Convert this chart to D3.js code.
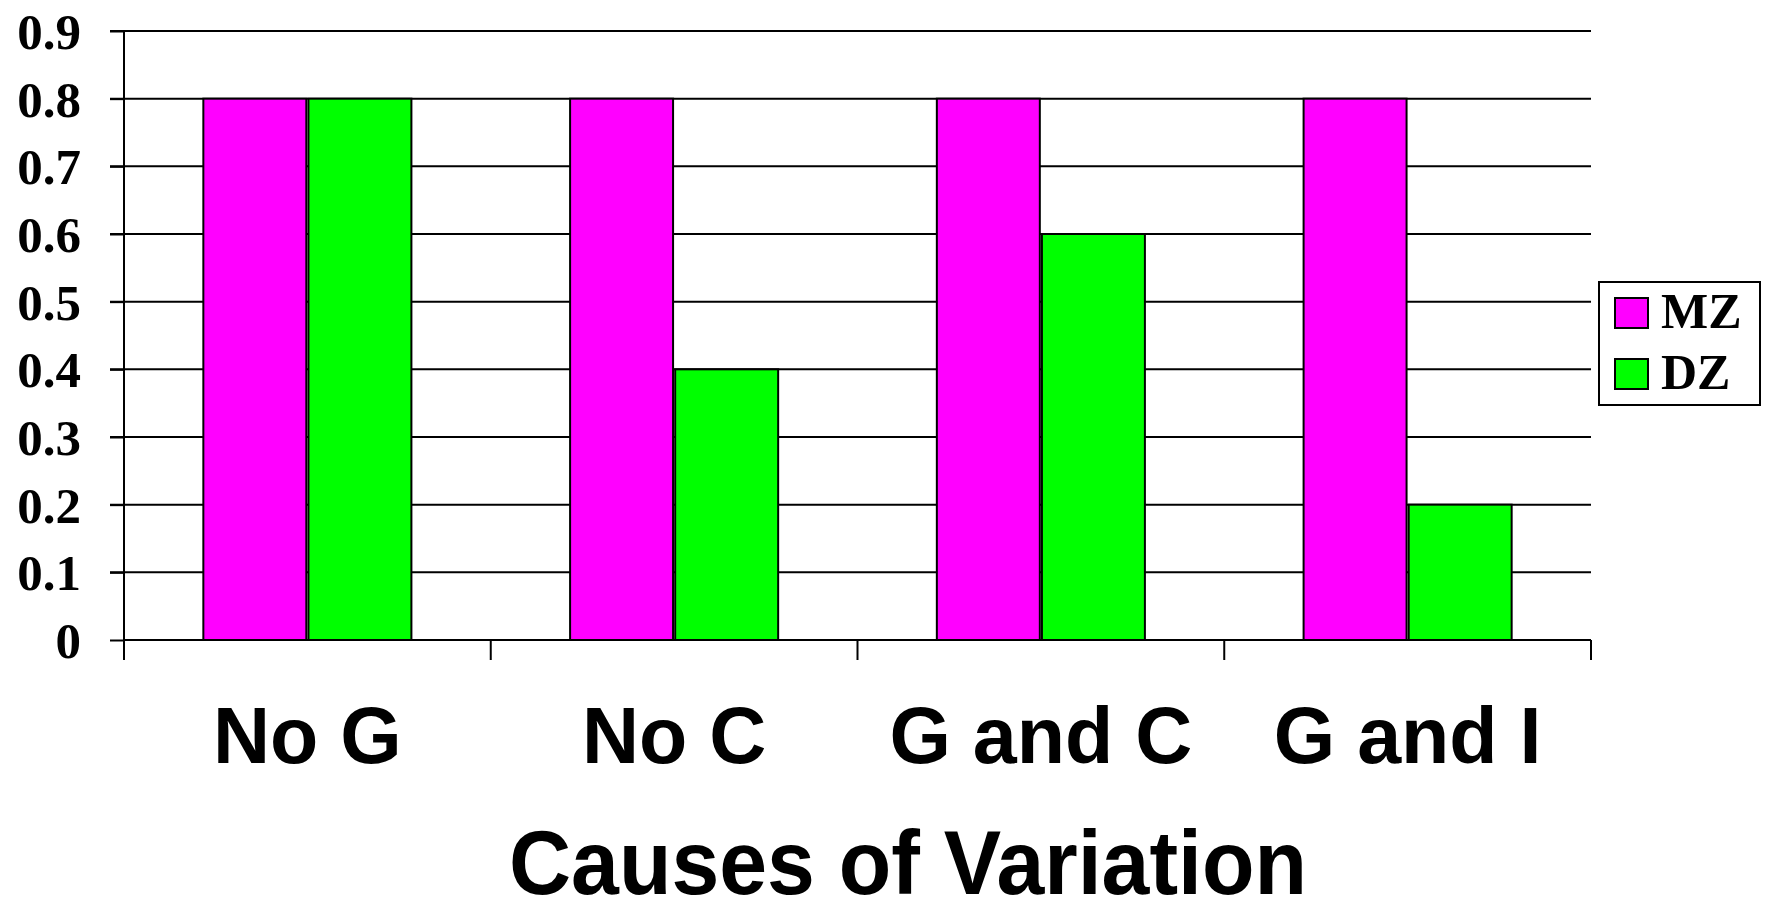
<!DOCTYPE html>
<html>
<head>
<meta charset="utf-8">
<script src="https://cdn.jsdelivr.net/npm/d3@7"></script>
<style>
  html, body { margin: 0; padding: 0; background: #fff; }
  svg { display: block; }
</style>
</head>
<body>
<script>
const categories = ["No G", "No C", "G and C", "G and I"];
const seriesNames = ["MZ", "DZ"];
const mzValues = [0.8, 0.8, 0.8, 0.8];
const dzValues = [0.8, 0.4, 0.6, 0.2];
const yTicks = [0, 0.1, 0.2, 0.3, 0.4, 0.5, 0.6, 0.7, 0.8, 0.9];
const colors = ["#ff00ff", "#00ff00"];
const xTitle = "Causes of Variation";

(function () {
const W = 1767, H = 905;
const pL = 124, pR = 1591, pT = 31, pB = 640;

const svg = d3.select("body").append("svg").attr("width", W).attr("height", H);

const x0 = d3.scaleBand().domain(categories).range([pL, pR]).paddingInner(0).paddingOuter(0);
const y = d3.scaleLinear().domain([0, 0.9]).range([pB, pT]);
const x1 = d3.scaleBand().domain(seriesNames).range([0, x0.bandwidth()]).paddingOuter(0.755).paddingInner(0.02);

const data = categories.map((c, i) => ({ cat: c, vals: [mzValues[i], dzValues[i]] }));

// gridlines
svg.append("g").selectAll("line").data(yTicks.filter(d => d > 0)).join("line")
  .attr("x1", pL - 14).attr("x2", pR)
  .attr("y1", d => y(d)).attr("y2", d => y(d))
  .attr("stroke", "#000").attr("stroke-width", 2);

// bars
const groups = svg.append("g").selectAll("g").data(data).join("g")
  .attr("transform", d => `translate(${x0(d.cat)},0)`);
groups.selectAll("rect").data(d => d.vals.map((v, j) => ({ s: seriesNames[j], v, j }))).join("rect")
  .attr("x", d => x1(d.s))
  .attr("width", x1.bandwidth())
  .attr("y", d => y(d.v))
  .attr("height", d => y(0) - y(d.v))
  .attr("fill", d => colors[d.j])
  .attr("stroke", "#000").attr("stroke-width", 2);

// y axis
const yAxis = d3.axisLeft(y).tickValues(yTicks).tickSize(14).tickFormat(d => d === 0 ? "0" : d3.format(".1f")(d));
const yg = svg.append("g").attr("transform", `translate(${pL},0)`).call(yAxis);
yg.select(".domain").remove();
yg.selectAll(".tick line").attr("stroke", "#000").attr("stroke-width", 2);
yg.selectAll(".tick text")
  .attr("font-family", "'Liberation Serif', 'Times New Roman', serif")
  .attr("font-weight", "bold").attr("font-size", 51).attr("fill", "#000")
  .attr("x", -43).attr("dy", "0.34em");
svg.append("line").attr("x1", pL).attr("x2", pL).attr("y1", pT).attr("y2", pB + 20)
  .attr("stroke", "#000").attr("stroke-width", 2);

// x axis line and ticks
svg.append("line").attr("x1", pL).attr("x2", pR).attr("y1", pB).attr("y2", pB)
  .attr("stroke", "#000").attr("stroke-width", 2);
const xBounds = categories.map(c => x0(c)).concat([pR]);
svg.append("g").selectAll("line").data(xBounds).join("line")
  .attr("x1", d => d).attr("x2", d => d).attr("y1", pB).attr("y2", pB + 20)
  .attr("stroke", "#000").attr("stroke-width", 2);

// category labels
svg.append("g").selectAll("text").data(categories).join("text")
  .attr("x", d => x0(d) + x0.bandwidth() / 2)
  .attr("y", 763)
  .attr("text-anchor", "middle")
  .attr("font-family", "'Liberation Sans', Arial, sans-serif")
  .attr("font-weight", "bold").attr("font-size", 79).attr("fill", "#000")
  .text(d => d);

// axis title
svg.append("text")
  .attr("transform", "translate(908,894) scale(1,1.05)")
  .attr("text-anchor", "middle")
  .attr("font-family", "'Liberation Sans', Arial, sans-serif")
  .attr("font-weight", "bold").attr("font-size", 86).attr("fill", "#000")
  .text(xTitle);

// legend
const lg = svg.append("g");
lg.append("rect").attr("x", 1599).attr("y", 282).attr("width", 161).attr("height", 123)
  .attr("fill", "#fff").attr("stroke", "#000").attr("stroke-width", 2);
const items = lg.selectAll("g").data(seriesNames).join("g")
  .attr("transform", (d, i) => `translate(1615,${298 + i * 61})`);
items.append("rect").attr("width", 33).attr("height", 30)
  .attr("fill", (d, i) => colors[i]).attr("stroke", "#000").attr("stroke-width", 2);
items.append("text").attr("x", 46).attr("y", 30)
  .attr("font-family", "'Liberation Serif', 'Times New Roman', serif")
  .attr("font-weight", "bold").attr("font-size", 50).attr("fill", "#000")
  .text(d => d);
})();
</script>
</body>
</html>
